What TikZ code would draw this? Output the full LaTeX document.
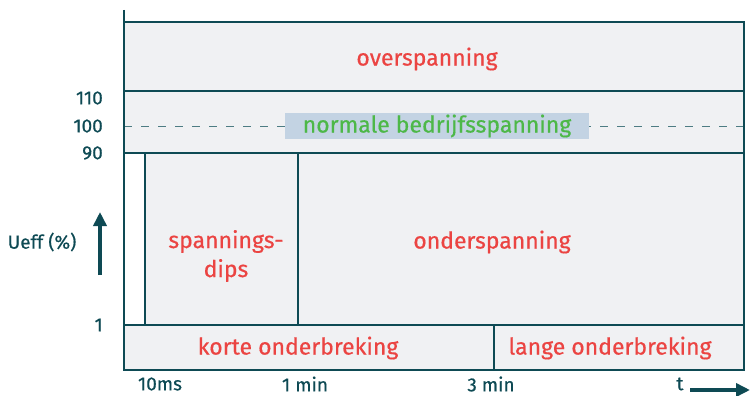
\documentclass[tikz,border=0pt]{standalone}
\usepackage{fontspec}
\setmainfont{Fira Sans}[FakeBold=0.5]
\usetikzlibrary{arrows.meta}
\definecolor{teal}{HTML}{0E4A54}
\definecolor{boxfill}{HTML}{F0F1F3}
\definecolor{redtxt}{HTML}{EB4442}
\definecolor{greentxt}{HTML}{4DB848}
\definecolor{labelbg}{HTML}{C3D3E3}
\definecolor{dashc}{HTML}{4D7C83}
\tikzset{
  frame/.style={draw=teal, line width=2.5pt},
  region/.style={font=\fontsize{23}{26}\selectfont, text=redtxt, inner sep=0pt},
  tick/.style={font=\fontsize{19}{22}\selectfont, text=teal, inner sep=0pt},
  bigarrow/.style={draw=teal, line width=4.5pt, -{Triangle[length=14pt,width=13pt]}}
}
\begin{document}
\begin{tikzpicture}[x=1pt,y=-1pt]
\useasboundingbox (0,0) rectangle (750,396);
% fills
\fill[boxfill] (124,22) rectangle (744,370);
\fill[white] (125,153) rectangle (145,325);
% coordinates
\coordinate (tl) at (124,22);
\coordinate (tr) at (744,22);
\coordinate (br) at (744,370);
\coordinate (bl) at (124,370);
% dashed line
\draw[dashc, line width=1pt, dash pattern=on 8pt off 9pt] (124,126) -- (744,126);
% frame
\draw[frame] (124,10) -- (bl) -- (br) -- (tr) -- (tl);
\draw[frame] (124,91) -- (744,91);
\draw[frame] (124,153) -- (744,153);
\draw[frame] (124,325) -- (744,325);
\draw[frame] (145,153) -- (145,325);
\draw[frame] (298,153) -- (298,325);
\draw[frame] (494,325) -- (494,370);
% region labels
\node[region] (over) at (427,59) {overspanning};
\node[region, text=greentxt, fill=labelbg, minimum width=304pt, minimum height=26pt] (norm) at (437,126) {normale bedrijfsspanning};
\node[region, align=center, font=\fontsize{23}{29}\selectfont] (dips) at (226,256) {spannings-\\dips};
\node[region] (onder) at (492,242) {onderspanning};
\node[region] (korte) at (298,348) {korte onderbreking};
\node[region] (lange) at (610,348) {lange onderbreking};
% tick labels
\node[tick, anchor=east] (t110) at (103,98) {110};
\node[tick, anchor=east] (t100) at (103,126) {100};
\node[tick, anchor=east] (t90) at (103,153) {90};
\node[tick, anchor=east] (t1) at (103,325) {1};
\node[tick] (ueff) at (42,242) {Ueff (\%)};
\node[tick] (ms) at (160,384) {10ms};
\node[tick] (m1) at (305,384) {1 min};
\node[tick] (m3) at (491,384) {3 min};
\node[tick] (t) at (680,384) {t};
% arrows
\coordinate (ua0) at (100,275);
\coordinate (ua1) at (100,212);
\draw[bigarrow] (ua0) -- (ua1);
\coordinate (ra0) at (690,390);
\coordinate (ra1) at (750,390);
\draw[bigarrow] (ra0) -- (ra1);
\end{tikzpicture}
\end{document}
